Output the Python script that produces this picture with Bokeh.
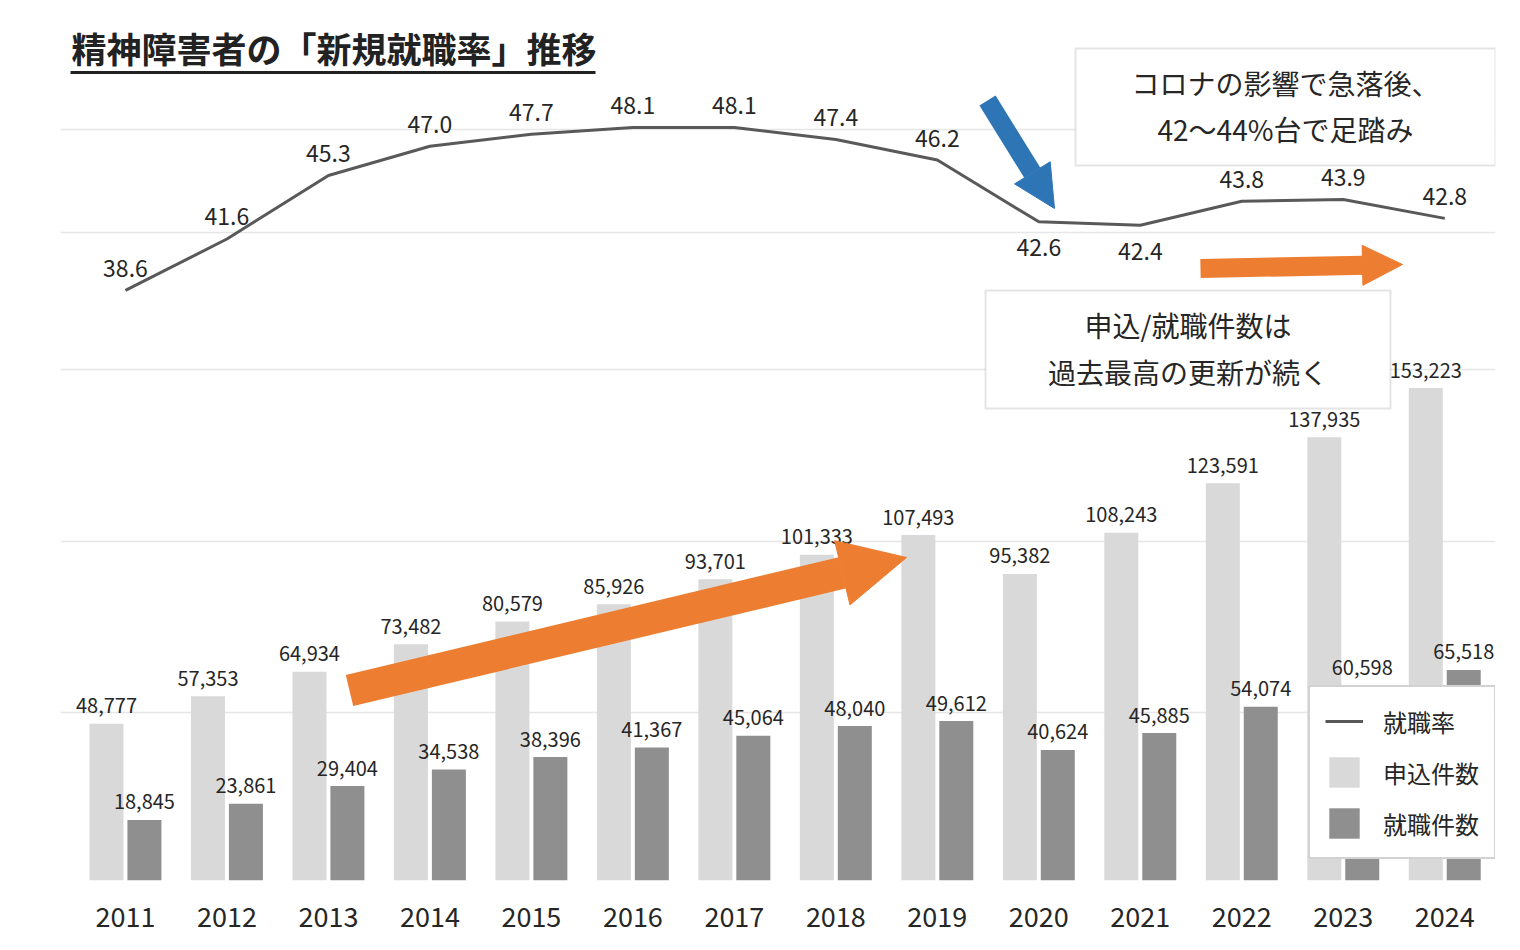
from bokeh.plotting import figure
from bokeh.models import (ColumnDataSource, Range1d, FixedTicker, Grid, Legend, LegendItem,
                          Label, BoxAnnotation, Arrow, NormalHead)
from bokeh.transform import dodge
from bokeh.embed import file_html
from bokeh.resources import INLINE

# ---- data -------------------------------------------------------------
years = ["2011", "2012", "2013", "2014", "2015", "2016", "2017",
         "2018", "2019", "2020", "2021", "2022", "2023", "2024"]
applications = [48777, 57353, 64934, 73482, 80579, 85926, 93701,
                101333, 107493, 95382, 108243, 123591, 137935, 153223]   # 申込件数
placements = [18845, 23861, 29404, 34538, 38396, 41367, 45064,
              48040, 49612, 40624, 45885, 54074, 60598, 65518]           # 就職件数
job_rate = [38.6, 41.6, 45.3, 47.0, 47.7, 48.1, 48.1,
            47.4, 46.2, 42.6, 42.4, 43.8, 43.9, 42.8]                    # 就職率 (%)
rate_labels_below = ["2020", "2021"]
grid_rates = [14, 24, 34, 42, 48]

# ---- style ------------------------------------------------------------
FONT = "Noto Sans CJK JP"
TEXT = "#262626"
LIGHT = "#d9d9d9"
DARK = "#8f8f8f"
LINE = "#595959"
ORANGE = "#ed7d31"
BLUE = "#2e75b6"
BOX_LINE = "#a6a6a6"

W, H = 1520, 950
FL, FR, FT, FB = 60, 1495, 20, 880          # frame edges on the canvas

x_range = Range1d(-0.64, 13.5)
y_range = Range1d(0, 267600)
rate_range = Range1d(4.22, 54.33)


def px_x(px):
    """canvas x -> category-index units"""
    return x_range.start + (px - FL) / (FR - FL) * (x_range.end - x_range.start)


def px_y(py):
    """canvas y -> count units of the bar axis"""
    return y_range.start + (FB - py) / (FB - FT) * (y_range.end - y_range.start)


n = len(years)
src = ColumnDataSource(dict(
    x=list(range(n)),
    apply=applications,
    place=placements,
    rate=job_rate,
    apply_txt=[f"{v:,}" for v in applications],
    place_txt=[f"{v:,}" for v in placements],
    rate_txt=[f"{v:.1f}" for v in job_rate],
    rate_off=[26 if y in rate_labels_below else -22 for y in years],
))

p = figure(width=W, height=H, x_range=x_range, y_range=y_range,
           output_backend="svg", toolbar_location=None, y_axis_location=None,
           min_border_left=FL, min_border_right=W - FR,
           min_border_top=FT, min_border_bottom=H - FB,
           outline_line_color=None, background_fill_color="white")
p.extra_y_ranges = {"rate": rate_range}
p.xgrid.visible = False
p.ygrid.visible = False

p.add_layout(Grid(dimension=1, ticker=FixedTicker(ticks=grid_rates), y_range_name="rate",
                  grid_line_color="#e6e6e6", grid_line_width=1.5))

xa = p.xaxis[0]
xa.ticker = FixedTicker(ticks=list(range(n)))
xa.major_label_overrides = {i: y for i, y in enumerate(years)}
xa.axis_line_color = None
xa.major_tick_line_color = None
xa.minor_tick_line_color = None
xa.major_label_standoff = 20
xa.major_label_text_font = FONT
xa.major_label_text_font_size = "27px"
xa.major_label_text_color = TEXT

# ---- bars ---------------------------------------------------------------
OFF, BW = 0.187, 0.335
light = p.vbar(x=dodge("x", -OFF, range=p.x_range), top="apply", width=BW, source=src,
               fill_color=LIGHT, line_color=None)
dark = p.vbar(x=dodge("x", OFF, range=p.x_range), top="place", width=BW, source=src,
              fill_color=DARK, line_color=None)

bar_lbl = dict(source=src, text_align="center", text_baseline="alphabetic", y_offset=-18,
               text_font={"value": FONT}, text_font_size="20px", text_color=TEXT)
p.text(x=dodge("x", -OFF, range=p.x_range), y="apply", text="apply_txt", **bar_lbl)
p.text(x=dodge("x", OFF, range=p.x_range), y="place", text="place_txt", **bar_lbl)

# ---- rate line ----------------------------------------------------------
line = p.line(x="x", y="rate", source=src, y_range_name="rate",
              line_color=LINE, line_width=3)
p.text(x="x", y="rate", text="rate_txt", source=src, y_range_name="rate",
       y_offset="rate_off", text_align="center", text_baseline="alphabetic",
       text_font={"value": FONT}, text_font_size="23px", text_color=TEXT)

# ---- title ----------------------------------------------------------------
p.add_layout(Label(x=px_x(71), y=px_y(47), text="精神障害者の「新規就職率」推移",
                   text_align="left", text_baseline="middle", text_font=FONT,
                   text_font_size="35px", text_font_style="bold", text_color="#222222"))
p.add_layout(BoxAnnotation(left=px_x(70), right=px_x(595), top=px_y(70.5), bottom=px_y(73.5),
                           fill_color="#222222", fill_alpha=1, line_color=None))

# ---- arrows -------------------------------------------------------------
def arrow(x0, y0, x1, y1, width, head, color):
    p.add_layout(Arrow(x_start=px_x(x0), y_start=px_y(y0), x_end=px_x(x1), y_end=px_y(y1),
                       line_color=color, line_width=width, line_cap="butt",
                       end=NormalHead(size=head, fill_color=color, line_color=color,
                                      line_width=1)))


arrow(349, 690, 906, 557, 32, 66, ORANGE)     # growth of applications / placements
arrow(987, 100, 1054, 208, 19, 42, BLUE)      # covid drop
arrow(1200, 268, 1402, 264, 19, 40, ORANGE)   # record highs continue

# ---- call-out boxes -------------------------------------------------------
def callout(l, t, r, b, lines, ys):
    p.add_layout(BoxAnnotation(left=px_x(l), right=px_x(r), top=px_y(t), bottom=px_y(b),
                               fill_color="white", fill_alpha=1,
                               line_color=BOX_LINE, line_width=2))
    for txt, yy in zip(lines, ys):
        p.add_layout(Label(x=px_x((l + r) / 2), y=px_y(yy), text=txt,
                           text_align="center", text_baseline="middle", text_font=FONT,
                           text_font_size="28px", text_color=TEXT))


callout(1075, 48, 1495, 165, ["コロナの影響で急落後、", "42〜44%台で足踏み"], [82, 128])
callout(985, 290, 1390, 408, ["申込/就職件数は", "過去最高の更新が続く"], [324, 371])

# ---- legend ---------------------------------------------------------------
legend = Legend(items=[LegendItem(label="就職率", renderers=[line]),
                       LegendItem(label="申込件数", renderers=[light]),
                       LegendItem(label="就職件数", renderers=[dark])],
                location=(1308 - FL, FB - 859),
                glyph_width=38, glyph_height=38, spacing=13, padding=15,
                label_standoff=20, label_width=96,
                label_text_font=FONT, label_text_font_size="24px", label_text_color=TEXT,
                border_line_color=BOX_LINE, border_line_width=2,
                background_fill_color="white", background_fill_alpha=1)
p.add_layout(legend)

with open("out.html", "w", encoding="utf-8") as f:
    f.write(file_html(p, INLINE, title="精神障害者の新規就職率推移"))
